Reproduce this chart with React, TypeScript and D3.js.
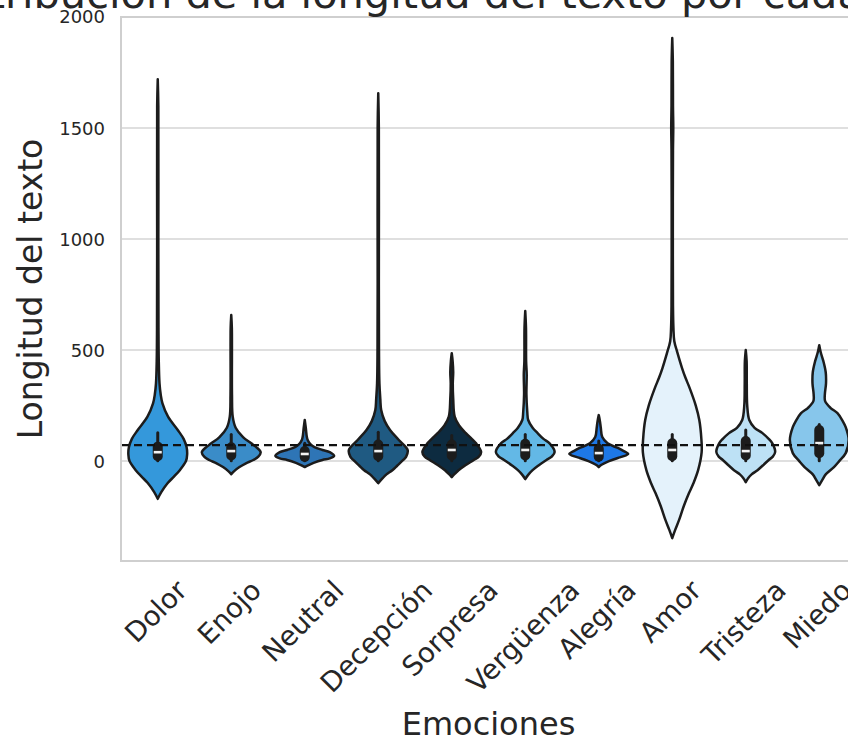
import React, { useRef, useEffect } from 'react';
import * as d3 from 'd3';

const categories = ['Dolor', 'Enojo', 'Neutral', 'Decepción', 'Sorpresa', 'Vergüenza', 'Alegría', 'Amor', 'Tristeza', 'Miedo'];
const colors = ['#3498db', '#3a8cc8', '#2e75b6', '#1f5a82', '#0d2b40', '#63b8e6', '#1e78e6', '#e4f2fb', '#bde1f5', '#87c6eb'];

// density outline of each violin: [text length, relative half width]
const dolor = [[1720, 0], [1600, 0.02], [1000, 0.02], [600, 0.025], [450, 0.035], [350, 0.06], [300, 0.1], [260, 0.16], [200, 0.35], [140, 0.68], [100, 0.88], [63, 0.98], [30, 1], [0, 0.96], [-41, 0.75], [-70, 0.55], [-99, 0.34], [-140, 0.12], [-170, 0]];
const enojo = [[658, 0], [600, 0.02], [300, 0.025], [200, 0.05], [150, 0.15], [108, 0.4], [80, 0.68], [63, 0.85], [40, 1], [20, 0.92], [5, 0.75], [-10, 0.5], [-27, 0.28], [-45, 0.1], [-59, 0]];
const neutral = [[185, 0], [150, 0.035], [110, 0.07], [95, 0.1], [75, 0.2], [63, 0.33], [50, 0.6], [40, 0.85], [23, 1], [12, 0.85], [5, 0.6], [-8, 0.3], [-18, 0.13], [-27, 0]];
const decepcion = [[1657, 0], [1500, 0.02], [800, 0.02], [500, 0.025], [350, 0.04], [280, 0.07], [230, 0.1], [180, 0.22], [140, 0.4], [95, 0.7], [50, 1], [20, 0.95], [5, 0.85], [-20, 0.65], [-41, 0.48], [-60, 0.28], [-77, 0.15], [-99, 0]];
const sorpresa = [[486, 0], [450, 0.03], [400, 0.05], [350, 0.035], [280, 0.05], [200, 0.1], [160, 0.25], [126, 0.48], [100, 0.68], [81, 0.82], [41, 1], [20, 0.92], [5, 0.75], [-20, 0.45], [-41, 0.23], [-58, 0.1], [-72, 0]];
const verguenza = [[676, 0], [600, 0.025], [450, 0.03], [390, 0.05], [300, 0.04], [220, 0.07], [185, 0.1], [150, 0.25], [126, 0.42], [100, 0.62], [81, 0.82], [41, 1], [20, 0.9], [5, 0.72], [-20, 0.45], [-41, 0.25], [-62, 0.1], [-81, 0]];
const alegria = [[207, 0], [180, 0.04], [150, 0.07], [108, 0.12], [80, 0.3], [59, 0.65], [45, 0.85], [32, 1], [20, 0.8], [14, 0.65], [0, 0.35], [-9, 0.2], [-18, 0.08], [-27, 0]];
const amor = [[1905, 0], [1800, 0.02], [1600, 0.025], [1500, 0.035], [1400, 0.025], [1000, 0.02], [700, 0.025], [600, 0.04], [540, 0.07], [486, 0.18], [420, 0.33], [375, 0.45], [333, 0.58], [250, 0.8], [185, 0.92], [100, 0.99], [40, 1], [-41, 0.88], [-100, 0.72], [-144, 0.57], [-200, 0.4], [-266, 0.23], [-310, 0.1], [-347, 0]];
const tristeza = [[500, 0], [450, 0.03], [350, 0.035], [250, 0.05], [185, 0.12], [150, 0.3], [126, 0.57], [100, 0.78], [81, 0.9], [41, 1], [20, 0.92], [5, 0.78], [-20, 0.58], [-41, 0.4], [-60, 0.2], [-77, 0.08], [-95, 0]];
const miedo = [[522, 0], [490, 0.05], [450, 0.14], [400, 0.22], [350, 0.23], [300, 0.19], [270, 0.2], [240, 0.38], [216, 0.62], [180, 0.8], [153, 0.9], [95, 1], [36, 0.9], [0, 0.68], [-27, 0.5], [-60, 0.22], [-86, 0.1], [-108, 0]];
const shapes = [dolor, enojo, neutral, decepcion, sorpresa, verguenza, alegria, amor, tristeza, miedo];

// inner box stats
const whiskerLow = [1, 2, 2, 1, 2, 2, 2, 2, 1, 2];
const q1 = [22, 25, 18, 22, 25, 25, 20, 22, 25, 35];
const medians = [40, 45, 32, 45, 50, 50, 36, 50, 45, 81];
const q3 = [65, 62, 45, 75, 75, 78, 55, 80, 90, 140];
const whiskerHigh = [128, 120, 80, 130, 115, 120, 90, 120, 140, 165];

const meanLength = 72;
const yTicks = [0, 500, 1000, 1500, 2000];

const W = 848;
const H = 738;
const left = 121, right = 856, top = 17, bottom = 561;
const textColor = '#262626';
const lineColor = '#1c1c1c';
const font = 'DejaVu Sans, sans-serif';

const App = () => {
  const svgRef = useRef<SVGSVGElement>(null);

  useEffect(() => {
    const svg = d3.select(svgRef.current);
    svg.selectAll('*').remove();

    const x = d3.scaleBand().domain(categories).range([left, right]);
    const y = d3.scaleLinear().domain([-450, 2000]).range([bottom, top]);
    const half = d3.scaleLinear().domain([0, 1]).range([0, x.bandwidth() * 0.4]);

    // grid
    svg.append('g')
      .selectAll('line')
      .data(yTicks)
      .join('line')
      .attr('x1', left).attr('x2', right)
      .attr('y1', d => y(d)).attr('y2', d => y(d))
      .attr('stroke', '#d4d4d4').attr('stroke-width', 1.5);

    // violins
    categories.forEach((c, i) => {
      const cx = x(c)! + x.bandwidth() / 2;
      const area = d3.area<number[]>()
        .y(d => y(d[0]))
        .x0(d => cx - half(d[1]))
        .x1(d => cx + half(d[1]))
        .curve(d3.curveCatmullRom);
      svg.append('path')
        .attr('d', area(shapes[i]))
        .attr('fill', colors[i])
        .attr('stroke', lineColor)
        .attr('stroke-width', 2.5)
        .attr('stroke-linejoin', 'round');

      svg.append('line')
        .attr('x1', cx).attr('x2', cx)
        .attr('y1', y(whiskerLow[i])).attr('y2', y(whiskerHigh[i]))
        .attr('stroke', lineColor).attr('stroke-width', 3).attr('stroke-linecap', 'round');
      svg.append('line')
        .attr('x1', cx).attr('x2', cx)
        .attr('y1', y(q1[i])).attr('y2', y(q3[i]))
        .attr('stroke', lineColor).attr('stroke-width', 10).attr('stroke-linecap', 'round');
      svg.append('rect')
        .attr('x', cx - 4).attr('y', y(medians[i]) - 1.3)
        .attr('width', 8).attr('height', 2.6)
        .attr('fill', '#f2f2f2');
    });

    // mean line
    svg.append('line')
      .attr('x1', left).attr('x2', right)
      .attr('y1', y(meanLength)).attr('y2', y(meanLength))
      .attr('stroke', '#111').attr('stroke-width', 2.2)
      .attr('stroke-dasharray', '8,5');

    // spines
    svg.append('rect')
      .attr('x', left).attr('y', top)
      .attr('width', right - left).attr('height', bottom - top)
      .attr('fill', 'none').attr('stroke', '#cfcfcf').attr('stroke-width', 2);

    // y tick labels
    svg.append('g')
      .selectAll('text')
      .data(yTicks)
      .join('text')
      .attr('x', 105).attr('y', d => y(d))
      .attr('dy', '0.36em')
      .attr('text-anchor', 'end')
      .attr('font-family', font).attr('font-size', 18)
      .attr('fill', textColor)
      .text(d => d);

    // x tick labels, rotated 45 and centred on the tick
    const fs = 27.5;
    categories.forEach(c => {
      const cx = x(c)! + x.bandwidth() / 2 - 2;
      const t = svg.append('text')
        .attr('font-family', font).attr('font-size', fs)
        .attr('fill', textColor)
        .attr('text-anchor', 'middle')
        .text(c);
      const w = (t.node() as SVGTextElement).getComputedTextLength();
      const h = fs * 1.16;
      const cy = 574 + (w + h) * Math.SQRT1_2 / 2;
      t.attr('x', cx).attr('y', cy)
        .attr('dy', '0.35em')
        .attr('transform', `rotate(-45,${cx},${cy})`);
    });

    // axis labels and title
    svg.append('text')
      .attr('x', (left + right) / 2).attr('y', 735)
      .attr('text-anchor', 'middle')
      .attr('font-family', font).attr('font-size', 32)
      .attr('fill', textColor)
      .text('Emociones');

    svg.append('text')
      .attr('transform', `translate(42,${(top + bottom) / 2}) rotate(-90)`)
      .attr('text-anchor', 'middle')
      .attr('font-family', font).attr('font-size', 33)
      .attr('fill', textColor)
      .text('Longitud del texto');

    svg.append('text')
      .attr('x', (left + right) / 2).attr('y', 8)
      .attr('text-anchor', 'middle')
      .attr('font-family', font).attr('font-size', 41.5)
      .attr('fill', textColor)
      .text('Distribución de la longitud del texto por cada emoción');
  }, []);

  return (
    <svg ref={svgRef} width={W} height={H}
      style={{ position: 'absolute', left: 0, top: 0, background: '#fff' }} />
  );
};

export default App;
